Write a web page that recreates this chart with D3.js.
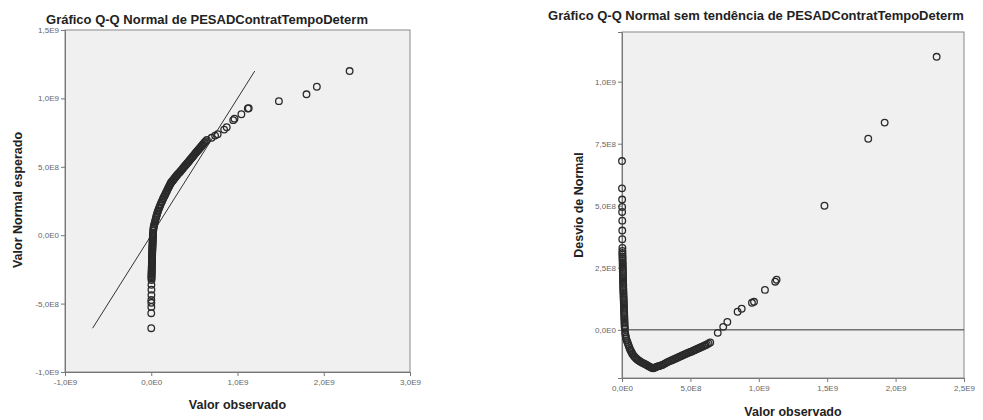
<!DOCTYPE html>
<meta charset="utf-8">
<script src="https://d3js.org/d3.v7.min.js"></script>
<style>
body { margin:0; background:#fff; }
svg { font-family: "Liberation Sans", Arial, sans-serif; }
.title { font-size:13px; font-weight:bold; fill:#222; }
.axtitle { font-size:12.5px; font-weight:bold; fill:#222; }
.tick text { font-size:8px; fill:#666; }
.tick line, .domain { stroke:#777; }
.pt { fill:none; stroke:#2a2a2a; stroke-width:1.3; }
</style>
<body></body>
<script>

// values in units of 1E9
var observed = [
  0.000, 0.000, 0.001, 0.001, 0.001, 0.002, 0.002, 0.002, 0.003,
  0.003, 0.003, 0.003, 0.004, 0.004, 0.004, 0.005, 0.005, 0.005, 0.006,
  0.006, 0.006, 0.007, 0.007, 0.007, 0.008, 0.008, 0.008, 0.009, 0.009,
  0.009, 0.010, 0.010, 0.011, 0.011, 0.012, 0.012, 0.013, 0.013, 0.014,
  0.014, 0.015, 0.015, 0.016, 0.016, 0.017, 0.017, 0.018, 0.018, 0.019,
  0.019, 0.020, 0.021,
  0.023, 0.025, 0.028, 0.030, 0.035, 0.040, 0.045, 0.050, 0.055, 0.060,
  0.065, 0.070, 0.075, 0.080, 0.088, 0.095, 0.103, 0.110, 0.118, 0.125,
  0.133, 0.140, 0.148, 0.155, 0.163, 0.170, 0.178, 0.185, 0.193, 0.200,
  0.208, 0.215, 0.221, 0.227, 0.233, 0.240, 0.248, 0.255, 0.263, 0.270,
  0.278, 0.285, 0.293, 0.300, 0.310, 0.320, 0.330, 0.340, 0.350, 0.360,
  0.370, 0.380, 0.390, 0.400, 0.410, 0.420, 0.430, 0.440, 0.450, 0.460,
  0.470, 0.480, 0.490, 0.500, 0.510, 0.520, 0.530, 0.540, 0.550, 0.560,
  0.570, 0.580, 0.590, 0.600, 0.610, 0.620, 0.633, 0.645,
  0.700, 0.740, 0.770, 0.845, 0.875, 0.950, 0.965, 1.045, 1.120, 1.130,
  1.480, 1.800, 1.920, 2.300
];
var expected = [
  -0.680, -0.570, -0.524, -0.494, -0.474, -0.438, -0.398, -0.363, -0.327,
  -0.315, -0.307, -0.300, -0.291, -0.284, -0.276, -0.267, -0.260, -0.252, -0.244,
  -0.236, -0.229, -0.220, -0.213, -0.205, -0.197, -0.189, -0.182, -0.173, -0.166,
  -0.158, -0.150, -0.142, -0.134, -0.126, -0.118, -0.110, -0.102, -0.094, -0.086,
  -0.078, -0.070, -0.062, -0.054, -0.046, -0.038, -0.030, -0.022, -0.014, -0.006,
  0.002, 0.010, 0.017,
  0.033, 0.045, 0.056, 0.065, 0.078, 0.090, 0.103, 0.115, 0.128, 0.140,
  0.150, 0.160, 0.171, 0.180, 0.194, 0.205, 0.218, 0.228, 0.240, 0.249,
  0.261, 0.270, 0.281, 0.289, 0.300, 0.308, 0.319, 0.328, 0.339, 0.348,
  0.358, 0.367, 0.375, 0.382, 0.387, 0.392, 0.398, 0.403, 0.410, 0.416,
  0.423, 0.428, 0.435, 0.440, 0.447, 0.454, 0.461, 0.468, 0.476, 0.483,
  0.491, 0.498, 0.506, 0.513, 0.521, 0.528, 0.536, 0.543, 0.551, 0.558,
  0.566, 0.573, 0.581, 0.589, 0.597, 0.604, 0.612, 0.619, 0.627, 0.634,
  0.642, 0.649, 0.657, 0.664, 0.672, 0.679, 0.688, 0.696,
  0.712, 0.728, 0.738, 0.772, 0.790, 0.841, 0.852, 0.884, 0.926, 0.928,
  0.980, 1.030, 1.085, 1.200
];

var qqXTicks = [-1, 0, 1, 2, 3];
var qqYTicks = [-1, -0.5, 0, 0.5, 1, 1.5];
var dtXTicks = [0, 0.5, 1, 1.5, 2, 2.5];
var dtYTicks = [0, 0.25, 0.5, 0.75, 1];

var points = observed.map(function(d, i) {
  return {obs: d, exp: expected[i], dev: d - expected[i]};
});

// SPSS style label, e.g. 1,0E9
function spss(v) {
  var n = v * 1e9;
  if (Math.abs(n) < 1) return "0,0E0";
  var e = Math.floor(Math.log10(Math.abs(n)) + 1e-9);
  var m = n / Math.pow(10, e);
  return m.toFixed(1).replace(".", ",") + "E" + e;
}

var svg = d3.select("body").append("svg")
  .attr("width", 983)
  .attr("height", 420);

function panel(opt) {
  var x = d3.scaleLinear().domain(opt.xDomain).range([opt.left, opt.right]);
  var y = d3.scaleLinear().domain(opt.yDomain).range([opt.bottom, opt.top]);
  var g = svg.append("g");

  g.append("rect")
    .attr("x", opt.left).attr("y", opt.top)
    .attr("width", opt.right - opt.left).attr("height", opt.bottom - opt.top)
    .attr("fill", "#f0f0f0").attr("stroke", "#888");

  g.append("g")
    .attr("transform", "translate(0," + opt.bottom + ")")
    .call(d3.axisBottom(x).tickValues(opt.xTicks).tickFormat(spss).tickSizeOuter(0).tickSize(4).tickPadding(3));
  g.append("g")
    .attr("transform", "translate(" + opt.left + ",0)")
    .call(d3.axisLeft(y).tickValues(opt.yTicks).tickFormat(spss).tickSizeOuter(0).tickSize(4).tickPadding(2));

  g.append("text").attr("class", "title")
    .attr("x", opt.titleX).attr("y", opt.titleY)
    .attr("text-anchor", "middle").text(opt.title);
  g.append("text").attr("class", "axtitle")
    .attr("x", (opt.left + opt.right) / 2).attr("y", opt.xTitleY)
    .attr("text-anchor", "middle").text("Valor observado");
  g.append("text").attr("class", "axtitle")
    .attr("transform", "translate(" + opt.yTitleX + "," + opt.yTitleY + ") rotate(-90)")
    .attr("text-anchor", "middle").text(opt.yTitle);

  return {g: g, x: x, y: y};
}

// Q-Q normal
var p1 = panel({
  left: 65, right: 410, top: 30, bottom: 372,
  xDomain: [-1, 3], yDomain: [-1, 1.5],
  xTicks: qqXTicks, yTicks: qqYTicks,
  title: "Gráfico Q-Q Normal de PESADContratTempoDeterm", titleX: 207, titleY: 24,
  xTitleY: 409, yTitle: "Valor Normal esperado", yTitleX: 22, yTitleY: 200
});
var ext = d3.extent(expected);
p1.g.append("line")
  .attr("x1", p1.x(ext[0])).attr("y1", p1.y(ext[0]))
  .attr("x2", p1.x(ext[1])).attr("y2", p1.y(ext[1]))
  .attr("stroke", "#333").attr("stroke-width", 1);
p1.g.selectAll(".pt").data(points).enter().append("circle")
  .attr("class", "pt").attr("r", 3.3)
  .attr("cx", function(d) { return p1.x(d.obs); })
  .attr("cy", function(d) { return p1.y(d.exp); });

// detrended
var p2 = panel({
  left: 622, right: 964, top: 32, bottom: 378,
  xDomain: [0, 2.5], yDomain: [-0.194, 1.2],
  xTicks: dtXTicks, yTicks: dtYTicks,
  title: "Gráfico Q-Q Normal sem tendência de PESADContratTempoDeterm", titleX: 756, titleY: 20,
  xTitleY: 416, yTitle: "Desvio de Normal", yTitleX: 583, yTitleY: 205
});
p2.g.append("line")
  .attr("x1", p2.x(0)).attr("x2", p2.x(2.5))
  .attr("y1", p2.y(0)).attr("y2", p2.y(0))
  .attr("stroke", "#333").attr("stroke-width", 1);
p2.g.selectAll(".pt").data(points).enter().append("circle")
  .attr("class", "pt").attr("r", 3.3)
  .attr("cx", function(d) { return p2.x(d.obs); })
  .attr("cy", function(d) { return p2.y(d.dev); });

</script>
